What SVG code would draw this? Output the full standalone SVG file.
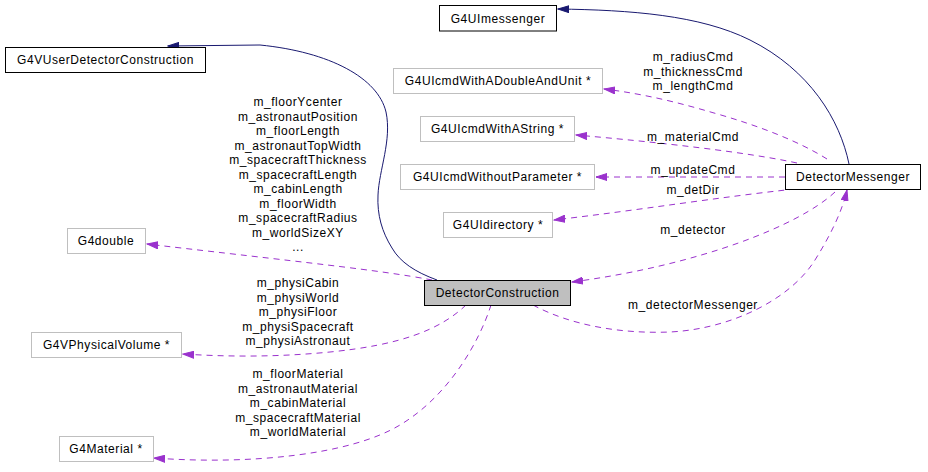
<svg xmlns="http://www.w3.org/2000/svg" width="928" height="472" viewBox="0 0 928 472">
<defs>
<style>
text{font-family:"Liberation Sans",Arial,sans-serif;font-size:12px;letter-spacing:0.55px;fill:#000;text-anchor:middle}
.n rect{fill:#fff;stroke:#000;stroke-width:1}
.g rect{fill:#fff;stroke:#bfbfbf;stroke-width:1}
.cur rect{fill:#bfbfbf;stroke:#000;stroke-width:1}
.inh{fill:none;stroke:#191970;stroke-width:1}
.use{fill:none;stroke:#9a32cd;stroke-width:1;stroke-dasharray:6,5}
</style>
<marker id="ab" markerWidth="12" markerHeight="8" refX="11" refY="4" orient="auto" markerUnits="userSpaceOnUse"><path d="M0,0.5 L11,4 L0,7.5 Z" fill="#191970" stroke="#191970"/></marker>
<marker id="ap" markerWidth="12" markerHeight="8" refX="11" refY="4" orient="auto" markerUnits="userSpaceOnUse"><path d="M0,0.5 L11,4 L0,7.5 Z" fill="#9a32cd" stroke="#9a32cd"/></marker>
</defs>
<rect width="928" height="472" fill="#fff"/>
<g id="connectors">
<path class="inh" marker-end="url(#ab)" d="M437,280 C415,272 400,262 392,248 C382,232 377,215 378,195 C379,170 392,140 386,112 C378,78 330,52 260,45 L168,46"/>
<path class="inh" marker-end="url(#ab)" d="M849,164 C840,120 810,70 750,40 C700,15 630,10 558,9"/>
<path class="use" marker-end="url(#ap)" d="M827,159 C800,142 760,126 714,113 C680,103 645,94 604,89"/>
<path class="use" marker-end="url(#ap)" d="M797,163 C760,155 690,145 576,135"/>
<path class="use" marker-end="url(#ap)" d="M785,177 L596,177"/>
<path class="use" marker-end="url(#ap)" d="M795,189 C720,197 640,210 554,220"/>
<path class="use" marker-end="url(#ap)" d="M835,192 C800,225 700,265 572,282"/>
<path class="use" marker-end="url(#ap)" d="M533,305 C570,325 620,334 670,332 C730,329 790,300 815,260 C830,236 842,212 847,190"/>
<path class="use" marker-end="url(#ap)" d="M432,280 C380,270 300,262 147,244"/>
<path class="use" marker-end="url(#ap)" d="M466,305 C440,330 400,345 330,352 C280,357 230,357 183,354"/>
<path class="use" marker-end="url(#ap)" d="M491,305 C480,340 450,395 400,425 C350,455 250,465 154,458"/>
</g>
<g id="labels">
<text x="298" y="106">m_floorYcenter</text>
<text x="298" y="120.5">m_astronautPosition</text>
<text x="298" y="135">m_floorLength</text>
<text x="298" y="149.5">m_astronautTopWidth</text>
<text x="298" y="164">m_spacecraftThickness</text>
<text x="298" y="178.5">m_spacecraftLength</text>
<text x="298" y="193">m_cabinLength</text>
<text x="298" y="207.5">m_floorWidth</text>
<text x="298" y="222">m_spacecraftRadius</text>
<text x="298" y="236.5">m_worldSizeXY</text>
<text x="298" y="251">...</text>
<text x="298" y="287">m_physiCabin</text>
<text x="298" y="301.5">m_physiWorld</text>
<text x="298" y="316">m_physiFloor</text>
<text x="298" y="330.5">m_physiSpacecraft</text>
<text x="298" y="345">m_physiAstronaut</text>
<text x="298" y="378">m_floorMaterial</text>
<text x="298" y="392.5">m_astronautMaterial</text>
<text x="298" y="407">m_cabinMaterial</text>
<text x="298" y="421.5">m_spacecraftMaterial</text>
<text x="298" y="436">m_worldMaterial</text>
<text x="693" y="61">m_radiusCmd</text>
<text x="693" y="75.5">m_thicknessCmd</text>
<text x="693" y="90">m_lengthCmd</text>
<text x="693" y="141">m_materialCmd</text>
<text x="693" y="174">m_updateCmd</text>
<text x="693" y="194">m_detDir</text>
<text x="693" y="233.5">m_detector</text>
<text x="693" y="309">m_detectorMessenger</text>
</g>
<g id="G4UImessenger" class="n"><rect x="439.5" y="5.5" width="117" height="25.5"/><text x="498" y="22.5">G4UImessenger</text></g>
<g id="G4VUserDetectorConstruction" class="n"><rect x="5.5" y="47.5" width="200" height="25"/><text x="105.5" y="64">G4VUserDetectorConstruction</text></g>
<g id="G4UIcmdWithADoubleAndUnit" class="g"><rect x="393.5" y="68.5" width="209" height="25"/><text x="498" y="85">G4UIcmdWithADoubleAndUnit *</text></g>
<g id="G4UIcmdWithAString" class="g"><rect x="420.5" y="116.5" width="154" height="25"/><text x="497.5" y="133">G4UIcmdWithAString *</text></g>
<g id="G4UIcmdWithoutParameter" class="g"><rect x="400.5" y="164.5" width="194" height="25"/><text x="497.5" y="181">G4UIcmdWithoutParameter *</text></g>
<g id="G4UIdirectory" class="g"><rect x="443.5" y="212.5" width="109" height="25"/><text x="498" y="229">G4UIdirectory *</text></g>
<g id="DetectorMessenger" class="n"><rect x="785.5" y="164.5" width="135" height="25"/><text x="853" y="181">DetectorMessenger</text></g>
<g id="DetectorConstruction" class="cur"><rect x="424.5" y="280.5" width="146" height="25"/><text x="497.5" y="297">DetectorConstruction</text></g>
<g id="G4double" class="g"><rect x="67.5" y="228.5" width="78" height="25"/><text x="106" y="245">G4double</text></g>
<g id="G4VPhysicalVolume" class="g"><rect x="31.5" y="332.5" width="150" height="25"/><text x="106.5" y="349">G4VPhysicalVolume *</text></g>
<g id="G4Material" class="g"><rect x="59.5" y="436.5" width="94" height="25"/><text x="106" y="453">G4Material *</text></g>
</svg>
